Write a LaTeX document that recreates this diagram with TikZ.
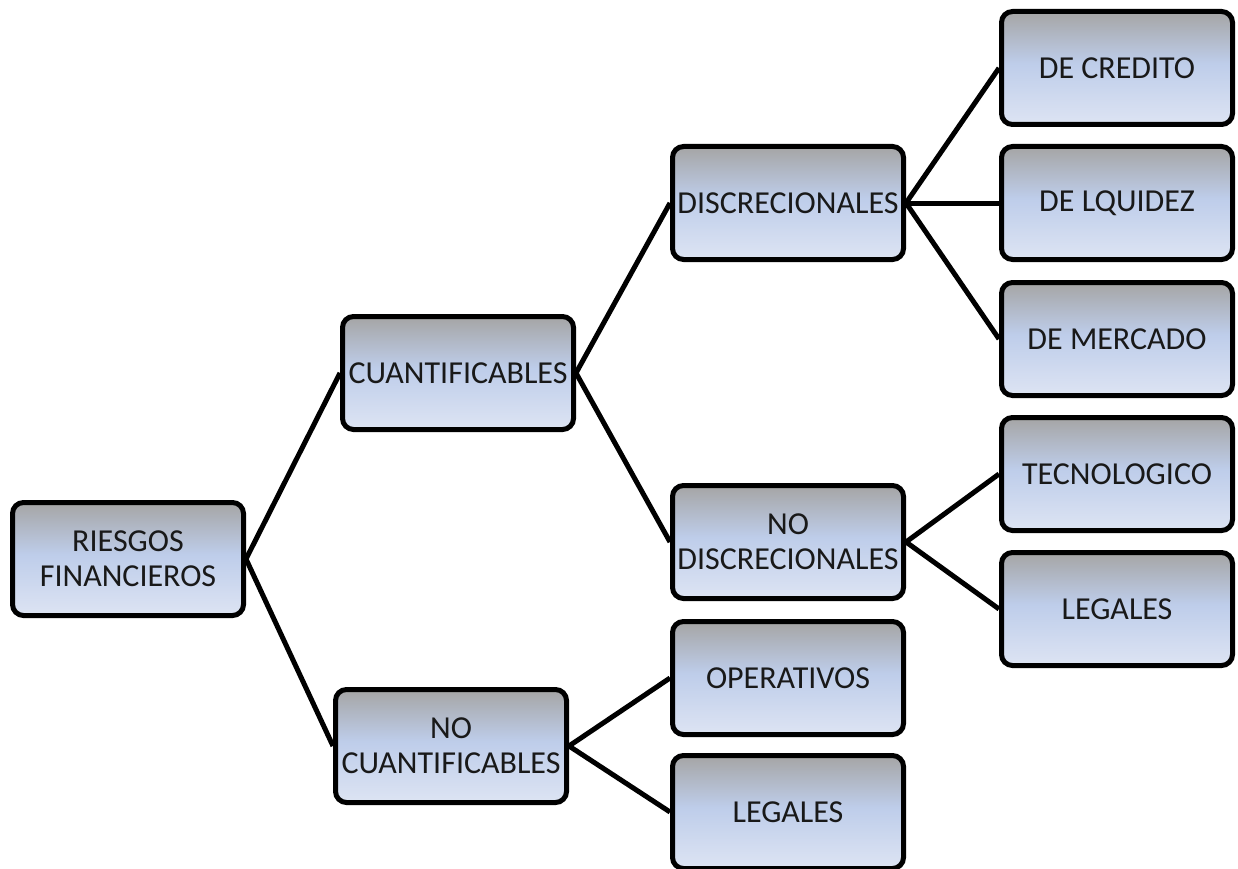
\documentclass[tikz,border=0pt]{standalone}
\usepackage{fontspec}
\setmainfont{Carlito}
\usetikzlibrary{backgrounds}
\definecolor{topc}{RGB}{165,165,165}
\definecolor{midc}{RGB}{190,205,234}
\definecolor{botc}{RGB}{221,228,243}
\pgfdeclareverticalshading{boxshade}{100bp}{%
  color(0bp)=(botc);
  color(25bp)=(botc);
  color(52bp)=(midc);
  color(75bp)=(topc);
  color(100bp)=(topc)}
\tikzset{
  box/.style={draw=black, line width=5pt, rounded corners=11pt,
    shading=boxshade,
    minimum width=231pt, minimum height=113pt, inner sep=0pt,
    align=center, font=\fontsize{32}{35}\selectfont, text=black!90},
  link/.style={line width=5pt, black}
}
\begin{document}
\begin{tikzpicture}[x=1pt,y=-1pt]
\useasboundingbox (0,0) rectangle (1238,869);
\node[box] (rf) at (128,559) {RIESGOS\\FINANCIEROS};
\node[box] (cu) at (458,373) {CUANTIFICABLES};
\node[box] (nc) at (451,746) {NO\\CUANTIFICABLES};
\node[box] (di) at (788,203) {DISCRECIONALES};
\node[box] (nd) at (788,542) {NO\\DISCRECIONALES};
\node[box] (op) at (788,678) {OPERATIVOS};
\node[box] (lb) at (788,812) {LEGALES};
\node[box] (dc) at (1117,68) {DE CREDITO};
\node[box] (dl) at (1117,203) {DE LQUIDEZ};
\node[box] (dm) at (1117,339) {DE MERCADO};
\node[box] (te) at (1117,474) {TECNOLOGICO};
\node[box] (lr) at (1117,609) {LEGALES};
\begin{pgfonlayer}{background}
\draw[link] (rf.east) -- (cu.west);
\draw[link] (rf.east) -- (nc.west);
\draw[link] (cu.east) -- (di.west);
\draw[link] (cu.east) -- (nd.west);
\draw[link] (nc.east) -- (op.west);
\draw[link] (nc.east) -- (lb.west);
\draw[link] (di.east) -- (dc.west);
\draw[link] (di.east) -- (dl.west);
\draw[link] (di.east) -- (dm.west);
\draw[link] (nd.east) -- (te.west);
\draw[link] (nd.east) -- (lr.west);
\end{pgfonlayer}
\end{tikzpicture}
\end{document}
